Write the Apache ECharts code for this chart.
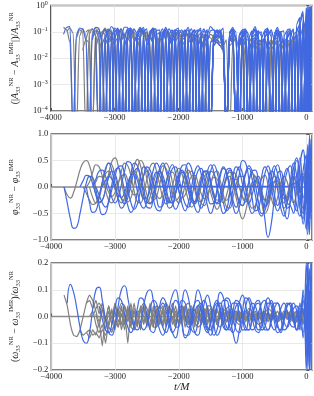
<!DOCTYPE html>
<html><head><meta charset="utf-8">
<script src="https://cdn.jsdelivr.net/npm/echarts@6/dist/echarts.min.js"></script>
<style>html,body{margin:0;padding:0;background:#fff}#c{width:314px;height:396px}</style>
</head><body><div id="c"></div>
<script>
const _ = null;
const T = [-3800,-3750,-3700,-3650,-3600,-3550,-3500,-3450,-3400,-3350,
-3300,-3250,-3200,-3150,-3100,-3050,-3000,-2950,-2900,-2850,
-2800,-2750,-2700,-2650,-2600,-2550,-2500,-2450,-2400,-2350,
-2300,-2250,-2200,-2150,-2100,-2050,-2000,-1950,-1900,-1850,
-1800,-1750,-1700,-1650,-1600,-1550,-1500,-1450,-1400,-1350,
-1300,-1250,-1200,-1150,-1100,-1050,-1000,-950,-900,-850,
-800,-750,-700,-650,-600,-550,-500,-450,-400,-350,
-300,-250,-200,-150,-100,-50,0,25,50,75];
const xTicks = [-4000,-3000,-2000,-1000,0];
const zeroRef = [[-4000,0],[90,0]];

// ---- panel 1: relative amplitude difference (log) ----
const ampGray1 = [0.15,0.12,0.04,1e-5,0.06,0.12,0.1,1e-5,0.08,0.13,
0.09,1e-5,0.07,0.12,0.05,1e-5,0.1,0.12,0.03,1e-5,
0.08,0.12,0.06,1e-5,0.09,0.11,1e-5,0.06,0.12,0.07,
1e-5,0.05,0.1,0.08,1e-5,0.07,0.1,0.04,1e-5,0.06,
0.09,0.06,1e-5,0.05,0.08,0.03,1e-5,0.05,0.07,0.06,
0.03,1e-5,0.06,0.05,1e-5,0.05,0.06,1e-5,0.06,0.04,
1e-5,0.04,0.05,1e-5,0.03,0.05,0.03,1e-5,0.04,0.05,
1e-5,0.04,0.06,1e-5,0.08,1e-5,0.2,1e-5,0.3,1e-5];
const ampGray2 = [_,0.1,0.14,0.09,1e-5,0.07,0.13,0.08,1e-5,0.1,
0.14,0.06,1e-5,0.09,0.13,0.04,1e-5,0.1,0.11,1e-5,
0.05,0.12,0.1,1e-5,0.07,0.12,0.04,1e-5,0.09,0.1,
0.02,1e-5,0.08,0.1,1e-5,0.04,0.09,0.06,1e-5,0.07,
0.08,1e-5,0.03,0.07,0.06,1e-5,0.04,0.07,0.06,0.03,
0.02,1e-5,0.06,0.04,0.06,0.02,1e-5,0.05,0.05,1e-5,
0.03,0.05,1e-5,0.04,0.04,1e-5,0.03,0.05,1e-5,0.02,
0.05,1e-5,0.05,0.07,1e-5,0.15,1e-5,0.4,1e-5,0.2];
const ampGray3 = [_,_,_,_,_,_,_,0.05,0.11,0.13,
0.07,1e-5,0.1,0.14,0.08,1e-5,0.06,0.12,0.1,1e-5,
0.1,0.13,0.05,1e-5,0.11,0.12,1e-5,0.08,0.13,0.05,
1e-5,0.09,0.11,1e-5,0.06,0.1,0.05,1e-5,0.08,0.08,
1e-5,0.05,0.08,0.04,1e-5,0.07,0.06,0.04,0.05,0.07,
0.03,1e-5,0.06,0.05,1e-5,0.04,0.06,0.01,1e-5,0.05,
0.04,1e-5,0.03,0.05,0.02,1e-5,0.04,0.04,1e-5,0.03,
0.05,0.02,1e-5,0.06,0.1,1e-5,0.3,0.05,1e-5,0.5];
const ampGray4 = [_,_,_,_,_,_,0.02,0.05,0.04,1e-5,
0.03,0.06,0.02,1e-5,0.04,0.05,0.01,1e-5,0.05,0.06,
0.02,1e-5,0.04,0.06,0.02,1e-5,0.05,0.05,1e-5,0.03,
0.06,0.03,1e-5,0.04,0.05,1e-5,0.02,0.05,0.03,1e-5,
0.04,0.05,1e-5,0.03,0.05,0.02,1e-5,0.03,0.04,0.03,
0.02,1e-5,0.03,0.04,1e-5,0.03,0.04,1e-5,0.02,0.04,
1e-5,0.03,0.04,1e-5,0.02,0.03,0.02,1e-5,0.03,0.03,
1e-5,0.03,0.05,0.02,1e-5,0.1,0.2,1e-5,0.4,0.1];
const ampGray5 = [_,_,_,_,_,_,_,_,_,_,
0.04,0.09,0.07,1e-5,0.06,0.1,0.04,1e-5,0.07,0.09,
1e-5,0.05,0.1,0.07,1e-5,0.06,0.1,0.03,1e-5,0.08,
0.09,1e-5,0.06,0.09,0.03,1e-5,0.07,0.08,1e-5,0.05,
0.08,0.03,1e-5,0.06,0.07,1e-5,0.04,0.07,0.05,0.03,
0.02,1e-5,0.05,0.06,1e-5,0.03,0.05,0.04,1e-5,0.04,
0.02,0.04,0.03,1e-5,0.03,0.04,1e-5,0.02,0.04,0.02,
1e-5,0.04,0.03,1e-5,0.06,0.15,1e-5,0.25,0.6,1e-5];
const ampGray6 = [_,_,_,_,_,_,_,0.1,0.12,1e-5,
0.08,0.13,0.06,1e-5,0.11,0.12,1e-5,0.07,0.13,0.08,
1e-5,0.1,0.12,1e-5,0.06,0.12,0.08,1e-5,0.1,0.11,
1e-5,0.07,0.11,0.05,1e-5,0.09,0.1,1e-5,0.06,0.09,
0.06,1e-5,0.07,0.09,1e-5,0.05,0.08,0.07,0.05,0.08,
0.04,1e-5,0.07,0.06,1e-5,0.05,0.07,1e-5,0.04,0.06,
0.03,1e-5,0.05,0.05,1e-5,0.04,0.05,1e-5,0.03,0.05,
1e-5,0.05,0.04,1e-5,0.1,1e-5,0.3,1e-5,0.5,0.2];
const ampGray7 = [_,_,_,_,_,_,_,_,_,_,
0.02,0.06,0.1,0.08,1e-5,0.05,0.11,0.09,1e-5,0.07,
0.12,0.05,1e-5,0.09,0.11,1e-5,0.04,0.1,0.09,1e-5,
0.07,0.1,1e-5,0.05,0.1,0.06,1e-5,0.08,0.09,1e-5,
0.05,0.08,0.04,1e-5,0.06,0.08,1e-5,0.05,0.07,0.06,
0.03,0.05,1e-5,0.04,0.06,1e-5,0.05,0.05,1e-5,0.03,
0.05,1e-5,0.04,0.05,1e-5,0.03,0.05,0.03,1e-5,0.04,
0.04,1e-5,0.05,0.08,1e-5,0.2,0.05,1e-5,0.3,1e-5];
const ampBlue1 = [0.08,0.15,0.16,1e-5,0.08,0.14,0.13,0.05,1e-5,0.08,
0.15,0.14,0.04,1e-5,0.1,0.16,0.12,1e-5,0.06,0.15,
0.15,0.05,1e-5,0.1,0.15,0.1,1e-5,0.08,0.14,0.12,
1e-5,0.06,0.13,0.1,1e-5,0.07,0.12,0.09,1e-5,0.08,
0.13,0.06,1e-5,0.09,0.13,0.04,1e-5,0.08,0.12,0.1,
0.04,1e-5,0.1,0.12,0.06,1e-5,0.08,0.12,0.05,1e-5,
0.06,0.11,0.07,1e-5,0.09,0.1,1e-5,0.07,0.1,0.03,
1e-5,0.1,0.12,1e-5,0.3,1e-5,0.8,0.2,1e-5,0.6];
const ampBlue2 = [_,_,_,_,_,_,_,_,_,_,
_,_,_,0.08,1e-5,0.07,0.14,0.11,1e-5,0.05,
0.13,0.14,1e-5,0.06,0.13,0.09,1e-5,0.1,0.14,0.04,
1e-5,0.1,0.12,1e-5,0.05,0.12,0.1,1e-5,0.09,0.12,
0.03,1e-5,0.1,0.12,1e-5,0.05,0.11,0.12,0.1,0.06,
0.02,1e-5,0.08,0.13,0.1,1e-5,0.06,0.12,0.08,1e-5,
0.08,0.11,1e-5,0.06,0.12,0.07,1e-5,0.08,0.1,1e-5,
0.06,0.1,0.05,1e-5,0.2,0.5,1e-5,1.0,0.3,1e-5];
const ampBlue3 = [_,_,_,_,_,_,_,_,_,0.05,
0.11,0.1,1e-5,0.05,0.12,0.1,1e-5,0.09,0.13,0.06,
1e-5,0.07,0.13,0.09,1e-5,0.1,0.13,0.02,1e-5,0.11,
0.12,0.04,1e-5,0.08,0.12,0.05,1e-5,0.1,0.11,1e-5,
0.07,0.12,0.07,1e-5,0.06,0.12,1e-5,0.05,0.08,0.1,
0.04,1e-5,0.09,0.12,1e-5,0.07,0.1,0.08,1e-5,0.07,
0.12,0.06,1e-5,0.1,0.1,1e-5,0.06,0.1,0.05,1e-5,
0.07,0.1,1e-5,0.15,0.08,1e-5,0.4,1e-5,0.6,0.9];
const ampBlue4 = [_,_,_,_,_,_,_,_,_,_,
0.06,1e-5,0.08,0.13,0.07,1e-5,0.1,0.14,0.04,1e-5,
0.1,0.12,1e-5,0.07,0.14,0.08,1e-5,0.11,0.12,1e-5,
0.08,0.13,0.05,1e-5,0.1,0.12,1e-5,0.06,0.12,0.07,
1e-5,0.09,0.12,1e-5,0.07,0.12,1e-5,0.06,0.11,0.09,
0.03,1e-5,0.1,0.12,1e-5,0.08,0.12,0.06,1e-5,0.1,
0.12,1e-5,0.06,0.11,0.08,1e-5,0.09,0.12,1e-5,0.07,
0.11,1e-5,0.08,0.1,1e-5,0.25,1e-5,0.7,1e-5,0.5];
const ampBlue5 = [_,_,_,_,_,_,_,_,_,_,
_,_,_,_,0.04,0.07,0.03,1e-5,0.05,0.08,
0.05,1e-5,0.04,0.08,0.06,1e-5,0.05,0.08,0.04,1e-5,
0.06,0.08,1e-5,0.04,0.08,0.05,1e-5,0.06,0.08,1e-5,
0.04,0.08,0.06,1e-5,0.05,0.08,1e-5,0.04,0.07,0.06,
0.04,1e-5,0.06,0.08,1e-5,0.04,0.08,0.05,1e-5,0.06,
0.08,0.03,1e-5,0.07,0.08,1e-5,0.05,0.09,0.04,1e-5,
0.06,0.09,1e-5,0.12,1e-5,0.3,0.1,1e-5,0.9,1e-5];
const ampBlue6 = [_,_,_,_,_,_,_,_,_,_,
_,_,_,_,_,_,0.05,0.12,0.1,1e-5,
0.07,0.14,0.09,1e-5,0.1,0.15,0.05,1e-5,0.12,0.13,
1e-5,0.08,0.15,0.07,1e-5,0.12,0.14,1e-5,0.09,0.15,
0.07,1e-5,0.11,0.14,1e-5,0.08,0.16,0.12,0.06,0.1,
0.14,1e-5,0.1,0.15,0.05,1e-5,0.12,0.13,1e-5,0.1,
0.16,0.06,1e-5,0.12,0.14,1e-5,0.09,0.15,0.05,1e-5,
0.12,0.13,1e-5,0.2,0.35,1e-5,0.8,1e-5,0.5,0.9];
const ampBlue7 = [_,_,_,_,_,_,_,_,_,_,
_,_,0.03,0.06,0.03,1e-5,0.04,0.06,1e-5,0.03,
0.06,0.04,1e-5,0.05,0.06,1e-5,0.03,0.06,0.04,1e-5,
0.05,0.06,1e-5,0.03,0.06,0.04,1e-5,0.05,0.06,1e-5,
0.04,0.06,0.03,1e-5,0.05,0.05,1e-5,0.03,0.05,0.04,
0.03,1e-5,0.05,0.06,1e-5,0.04,0.06,0.03,1e-5,0.05,
0.06,1e-5,0.04,0.06,0.02,1e-5,0.05,0.06,1e-5,0.04,
0.06,1e-5,0.05,0.08,1e-5,0.15,1e-5,0.5,0.2,1e-5];
const ampBlue8 = [_,_,_,_,_,_,_,_,_,_,
_,_,_,_,_,_,_,_,_,_,
_,_,_,_,_,_,_,_,_,_,
0.1,1e-5,0.07,0.13,0.09,1e-5,0.08,0.12,0.06,1e-5,
0.09,0.12,1e-5,0.06,0.11,0.1,1e-5,0.07,0.1,0.12,
0.06,1e-5,0.09,0.12,0.05,1e-5,0.1,0.11,1e-5,0.08,
0.13,0.05,1e-5,0.1,0.13,1e-5,0.07,0.12,0.09,1e-5,
0.09,0.12,1e-5,0.1,0.2,1e-5,0.5,0.2,1e-5,0.8];
const ampBlue9 = [_,_,_,_,_,_,_,_,_,_,
_,_,_,_,_,_,_,_,_,_,
_,_,_,_,_,_,_,_,_,_,
_,_,_,_,_,_,_,_,_,_,
_,_,_,_,_,_,_,_,_,_,
_,_,0.05,0.1,1e-5,0.08,0.1,1e-5,0.06,0.11,
1e-5,0.09,0.1,1e-5,0.07,0.12,0.05,1e-5,0.1,0.11,
1e-5,0.07,0.13,1e-5,0.3,0.6,1e-5,0.9,1e-5,0.7];
const ampBlue10 = [_,_,_,_,_,_,_,_,_,_,
_,_,_,_,_,_,_,_,_,_,
_,_,_,_,_,_,_,_,_,_,
_,_,_,_,_,_,0.03,0.05,1e-5,0.04,
0.05,1e-5,0.03,0.05,0.02,1e-5,0.04,0.05,0.04,0.03,
0.03,1e-5,0.05,0.04,1e-5,0.05,0.03,1e-5,0.05,0.02,
1e-5,0.05,0.04,1e-5,0.05,0.03,1e-5,0.04,0.05,1e-5,
0.05,0.04,1e-5,0.06,1e-5,0.2,1e-5,0.3,0.7,1e-5];

// ---- panel 2: phase difference ----
const phiGray1 = [0,-0.15,-0.21,-0.1,0.1,0.32,0.46,0.5,0.4,0.15,
-0.15,-0.3,-0.25,-0.05,0.25,0.48,0.55,0.4,0.12,-0.18,
-0.28,-0.2,0.05,0.33,0.5,0.42,0.15,-0.12,-0.25,-0.18,
0.05,0.3,0.45,0.35,0.08,-0.2,-0.3,-0.2,0.05,0.25,
0.3,0.15,-0.1,-0.3,-0.35,-0.2,0.05,0.25,0.3,0.12,
-0.15,-0.38,-0.4,-0.2,0.05,0.2,0.2,0,-0.25,-0.4,
-0.35,-0.1,0.15,0.22,0.05,-0.2,-0.35,-0.2,0.05,0.2,
0.1,-0.15,-0.3,-0.1,0.15,0.25,0,0.3,-0.2,0.1];
const phiGray2 = [_,_,_,_,_,_,_,_,0,-0.2,
-0.3,-0.2,0.05,0.3,0.45,0.42,0.2,-0.05,-0.22,-0.25,
-0.1,0.15,0.38,0.52,0.4,0.12,-0.15,-0.3,-0.25,0,
0.25,0.4,0.35,0.15,-0.1,-0.25,-0.2,0.02,0.22,0.32,
0.2,-0.05,-0.25,-0.28,-0.1,0.15,0.3,0.25,0.02,-0.22,
-0.3,-0.15,0.1,0.28,0.22,0,-0.2,-0.28,-0.15,0.08,
0.2,0.12,-0.08,-0.25,-0.3,-0.12,0.1,0.18,0.05,-0.15,
-0.25,-0.1,0.12,0.2,0,-0.2,0.1,-0.3,0.2,-0.1];
const phiGray3 = [_,_,_,_,_,_,_,0,0.1,0.28,
0.42,0.38,0.2,-0.05,-0.25,-0.3,-0.2,0.05,0.3,0.45,
0.4,0.2,-0.08,-0.28,-0.3,-0.12,0.15,0.38,0.45,0.3,
0.05,-0.2,-0.32,-0.25,0,0.25,0.35,0.25,0,-0.25,
-0.38,-0.3,-0.05,0.2,0.28,0.15,-0.1,-0.3,-0.42,-0.3,
-0.05,0.15,0.2,0.05,-0.2,-0.45,-0.6,-0.45,-0.15,0.08,
0.1,-0.05,-0.3,-0.5,-0.4,-0.1,0.1,0.05,-0.2,-0.4,
-0.3,0,0.2,0.05,-0.25,-0.4,0.2,0.4,-0.3,0.2];
const phiGray4 = [_,_,_,_,_,_,_,_,_,0,
0.1,0.2,0.18,0.05,-0.1,-0.18,-0.1,0.08,0.2,0.25,
0.12,-0.05,-0.15,-0.12,0.05,0.22,0.3,0.22,0.02,-0.15,
-0.22,-0.1,0.1,0.25,0.28,0.12,-0.08,-0.2,-0.15,0.05,
0.2,0.22,0.08,-0.12,-0.22,-0.15,0.05,0.18,0.15,-0.02,
-0.2,-0.25,-0.1,0.1,0.15,0.02,-0.18,-0.28,-0.2,0,
0.12,0.08,-0.1,-0.25,-0.22,-0.05,0.1,0.1,-0.05,-0.22,
-0.2,0.05,0.18,0,-0.2,0.15,-0.1,0.25,-0.15,0.05];
const phiGray5 = [_,_,_,_,_,_,0,-0.12,-0.25,-0.33,
-0.3,-0.15,0.08,0.25,0.3,0.15,-0.05,-0.22,-0.3,-0.2,
0.02,0.22,0.3,0.2,-0.02,-0.22,-0.3,-0.18,0.05,0.25,
0.3,0.15,-0.1,-0.28,-0.3,-0.12,0.12,0.28,0.25,0.05,
-0.15,-0.28,-0.22,0,0.2,0.25,0.1,-0.12,-0.25,-0.2,
0,0.2,0.28,0.15,-0.1,-0.3,-0.35,-0.15,0.1,0.25,
0.2,-0.02,-0.25,-0.35,-0.2,0.05,0.2,0.12,-0.1,-0.3,
-0.15,0.1,0.25,-0.05,-0.3,0.1,0.35,-0.4,0.25,0];
const phiBlue1 = [0,-0.3,-0.6,-0.78,-0.75,-0.5,-0.2,0.08,0.2,0.18,
-0.05,-0.35,-0.52,-0.5,-0.25,0.05,0.3,0.36,0.2,-0.08,
-0.35,-0.48,-0.38,-0.1,0.2,0.38,0.33,0.08,-0.22,-0.42,
-0.45,-0.25,0.05,0.32,0.42,0.25,-0.05,-0.32,-0.45,-0.3,
0,0.28,0.4,0.25,-0.05,-0.35,-0.5,-0.35,-0.05,0.25,
0.38,0.25,-0.05,-0.35,-0.5,-0.38,-0.05,0.25,0.35,0.15,
-0.15,-0.45,-0.55,-0.3,0.05,0.3,0.25,-0.05,-0.4,-0.55,
-0.3,0.1,0.45,0.2,-0.4,-0.6,0.5,-0.8,0.9,-0.5];
const phiBlue2 = [_,_,_,_,_,_,_,0,-0.3,-0.48,
-0.45,-0.2,0.1,0.35,0.45,0.3,0.05,-0.25,-0.4,-0.32,
-0.05,0.25,0.45,0.4,0.15,-0.15,-0.38,-0.4,-0.2,0.1,
0.35,0.45,0.3,0.02,-0.28,-0.42,-0.3,0,0.3,0.45,
0.35,0.05,-0.25,-0.4,-0.28,0.02,0.3,0.42,0.28,-0.02,
-0.3,-0.45,-0.35,-0.05,0.25,0.38,0.25,-0.05,-0.35,-0.5,
-0.4,-0.1,0.2,0.38,0.28,0,-0.3,-0.45,-0.3,0,
0.3,0.4,0.1,-0.35,-0.55,0.3,0.6,-0.7,1.0,-0.4];
const phiBlue3 = [_,_,_,_,_,_,_,_,_,0,
0.15,0.3,0.32,0.2,0,-0.2,-0.3,-0.2,0.05,0.3,
0.48,0.45,0.22,-0.08,-0.32,-0.4,-0.25,0.05,0.32,0.45,
0.35,0.08,-0.22,-0.4,-0.35,-0.1,0.2,0.4,0.42,0.2,
-0.1,-0.38,-0.48,-0.3,0,0.3,0.42,0.28,-0.02,-0.32,
-0.5,-0.42,-0.12,0.2,0.38,0.3,0.05,-0.2,-0.3,-0.15,
0.1,0.2,-0.1,-0.6,-0.95,-0.7,-0.2,0.25,0.3,0,
-0.3,-0.35,-0.5,0.1,0.55,-0.3,-0.8,0.7,-0.2,0.9];
const phiBlue4 = [_,_,_,_,_,_,_,_,_,_,
_,_,_,_,_,_,_,_,_,_,
_,_,_,_,_,_,_,0.01,0.01,0.01,
0.01,0.01,0.01,0.01,0.01,0.01,0.01,0.01,0.01,0.01,
0.01,0.01,0.01,0.01,0.01,0.01,0.01,0.01,0.01,0.01,
0.01,0.01,0.01,0.01,0.01,0.01,0.01,0.01,0.01,0.01,
0.01,0.01,0.01,0.01,0.01,0.01,0.01,0.01,0.01,0.01,
0.01,0.02,0.05,0.1,-0.1,0.2,-0.3,0.5,-0.6,0.8];
const phiBlue5 = [_,_,_,_,_,_,_,_,_,_,
0,-0.15,-0.3,-0.38,-0.28,-0.05,0.2,0.38,0.4,0.22,
-0.05,-0.3,-0.42,-0.32,-0.05,0.22,0.38,0.32,0.08,-0.2,
-0.38,-0.35,-0.12,0.15,0.35,0.38,0.18,-0.1,-0.32,-0.38,
-0.2,0.08,0.3,0.35,0.15,-0.12,-0.32,-0.3,-0.08,0.2,
0.35,0.28,0.02,-0.25,-0.38,-0.25,0.02,0.28,0.4,0.3,
0.05,-0.28,-0.5,-0.45,-0.15,0.2,0.4,0.25,-0.1,-0.45,
-0.6,-0.2,0.35,0.55,-0.1,-0.7,0.4,0.8,-0.9,0.3];
const phiBlue6 = [_,_,_,_,_,_,_,_,_,_,
_,_,0,0.12,0.2,0.15,0,-0.15,-0.2,-0.1,
0.08,0.22,0.25,0.12,-0.08,-0.22,-0.2,-0.05,0.15,0.28,
0.22,0.02,-0.2,-0.3,-0.18,0.05,0.25,0.32,0.18,-0.08,
-0.28,-0.32,-0.15,0.1,0.3,0.3,0.1,-0.15,-0.32,-0.28,
-0.05,0.2,0.32,0.2,-0.05,-0.28,-0.35,-0.18,0.1,0.3,
0.32,0.1,-0.2,-0.38,-0.3,0,0.3,0.42,0.2,-0.15,
-0.4,-0.3,0.1,0.5,0.3,-0.5,-0.2,0.6,-0.5,0.7];
const phiBlue7 = [_,_,_,_,_,0,0.12,0.22,0.2,0.05,
-0.15,-0.28,-0.25,-0.05,0.18,0.3,0.25,0.02,-0.22,-0.32,
-0.2,0.05,0.28,0.35,0.2,-0.05,-0.28,-0.32,-0.12,0.15,
0.3,0.22,-0.02,-0.25,-0.3,-0.12,0.12,0.28,0.22,0,
-0.22,-0.28,-0.12,0.12,0.3,0.28,0.05,-0.2,-0.3,-0.12,
0.12,0.32,0.35,0.18,-0.05,0.25,0.5,0.45,0.15,-0.2,
-0.45,-0.4,-0.1,0.25,0.4,0.2,-0.15,-0.35,-0.15,0.2,
0.35,0.1,-0.3,-0.45,0.4,0.7,-0.6,-0.9,0.7,-0.6];

// ---- panel 3: relative frequency difference ----
const omgGray1 = [0.08,0.04,-0.03,-0.07,-0.075,-0.05,0,0.05,0.08,0.06,
0.02,-0.02,0.03,-0.01,0.04,-0.03,0.02,-0.04,0.03,-0.02,
0.04,-0.03,0.02,-0.04,0.03,0,-0.03,0.04,-0.02,0.03,
-0.03,0.02,-0.04,0.03,-0.01,0.04,-0.03,0.02,-0.02,0.03,
-0.02,0.03,-0.03,0.01,0.03,-0.02,0.02,-0.03,0.02,0,
-0.02,0.02,-0.01,0.02,-0.02,0.01,0.02,-0.01,0.01,-0.02,
0.01,-0.01,0.02,-0.01,0.01,-0.02,0.01,0,-0.01,0.01,
-0.01,0.01,-0.02,0.01,0.02,-0.03,0.05,-0.08,0.06,-0.03];
const omgGray2 = [_,_,_,_,_,-0.05,-0.07,-0.06,-0.08,-0.05,
-0.07,-0.02,-0.11,0,-0.04,0.03,-0.05,0.02,-0.03,0.04,
-0.02,0.05,-0.04,0.02,-0.05,0.04,-0.01,0.05,-0.03,0.02,
0.04,-0.03,0.05,-0.02,0.03,-0.04,0.04,-0.01,0.03,-0.03,
0.03,-0.02,0.04,-0.03,0.02,0.03,-0.03,0.02,-0.02,0.03,
0.02,-0.02,0.03,-0.01,0.01,-0.02,0.02,0,-0.02,0.01,
-0.01,0.02,-0.01,0.01,-0.01,0.01,0,-0.01,0.01,-0.01,
0.01,-0.01,0.01,-0.02,0.02,0.01,-0.04,0.06,-0.05,0.02];
const omgGray3 = [_,_,_,_,_,_,_,0.05,0.06,0.03,
0.06,0.01,0.05,-0.02,0.04,-0.01,0.05,0,0.04,-0.03,
0.03,-0.01,0.05,-0.03,0.02,0.04,-0.04,0.03,0.01,-0.04,
0.02,0.04,-0.03,0.01,0.05,-0.02,0.02,0.03,-0.04,0.01,
0.04,-0.01,0.02,0.04,-0.03,0.01,0.03,-0.02,0.03,-0.01,
0.02,0.03,-0.02,0.01,0.02,-0.02,0.01,0.02,-0.01,0,
0.02,-0.01,0,0.02,-0.02,0.01,0.01,-0.02,0,0.02,
-0.01,0,0.02,-0.02,0,0.03,-0.05,0.04,-0.02,0.01];
const omgGray4 = [_,_,_,_,_,_,_,_,0,0.02,
-0.03,-0.06,-0.03,-0.1,-0.02,0.02,-0.04,0.03,-0.05,0.01,
-0.1,0.03,-0.05,0.01,0.03,-0.03,0.02,-0.05,0.04,-0.02,
0.01,-0.04,0.02,0.03,-0.03,0.01,-0.02,0.04,-0.01,-0.03,
0.02,-0.04,0.03,0,-0.03,0.04,-0.02,0.01,-0.03,0.02,
-0.03,0.01,0.02,-0.03,0.02,-0.01,-0.02,0.02,0.01,-0.02,
0,0.01,-0.02,0.01,0.01,-0.01,0.02,-0.01,0.01,0,
0.02,-0.02,0,0.02,-0.03,0.02,0.03,-0.06,0.04,-0.02];
const omgGray5 = [_,_,_,_,_,_,_,_,_,0,
0.03,0.05,0.03,-0.01,-0.04,-0.05,-0.02,0.02,0.05,0.04,
0,-0.04,-0.05,-0.02,0.03,0.05,0.03,-0.01,-0.04,-0.04,
-0.01,0.03,0.05,0.03,-0.01,-0.04,-0.04,0,0.04,0.05,
0.02,-0.02,-0.04,-0.03,0.01,0.04,0.04,0.01,-0.03,-0.04,
-0.01,0.03,0.04,0.02,-0.02,-0.03,-0.02,0.01,0.03,0.02,
-0.01,-0.03,-0.02,0.01,0.03,0.02,-0.01,-0.02,-0.01,0.01,
0.02,0,-0.02,0.01,0.03,-0.02,-0.04,0.05,-0.03,0.01];
const omgGray6 = [_,_,_,_,_,_,_,_,_,_,
0.01,-0.04,0.03,-0.05,0.02,-0.03,0.05,-0.02,0.01,-0.05,
0.02,-0.04,0.03,0.01,-0.05,0.03,-0.02,0.04,-0.04,0.02,
-0.03,0.03,-0.01,-0.04,0.03,-0.03,0.02,-0.02,0.04,-0.03,
0.01,-0.03,0.02,-0.02,0.03,-0.03,0.01,0.02,-0.03,0.01,
0.02,-0.02,0.01,0.02,-0.02,0,0.02,-0.02,0.01,0.01,
-0.02,0.01,0.01,-0.02,0.02,-0.01,0,0.02,-0.01,-0.01,
0.02,-0.01,0.01,0.02,-0.02,0.03,-0.03,0.05,-0.04,0.02];
const omgGray7 = [_,_,_,_,_,_,_,-0.06,-0.05,-0.07,
-0.06,-0.08,-0.05,-0.07,-0.04,-0.06,-0.02,-0.04,0.01,-0.03,
0.03,-0.01,0.02,-0.03,0.04,-0.02,0.01,-0.04,0.02,0.04,
-0.02,0.02,-0.03,0.04,-0.01,0.02,-0.03,0.03,0,-0.02,
0.03,-0.02,0,0.03,-0.02,0.02,-0.01,0.03,-0.02,0.01,
0.01,-0.02,0.02,0,-0.01,0.02,-0.01,-0.01,0.02,-0.01,
0.01,0,-0.01,0.01,0,-0.01,0.01,0,-0.01,0.01,
-0.01,0.02,-0.01,0,0.01,-0.02,0.04,-0.05,0.03,-0.01];
const omgBlue1 = [_,0.05,0.12,0.09,0.03,-0.04,-0.09,-0.1,-0.06,0.03,
0.1,0.11,0.06,-0.01,-0.06,-0.07,-0.03,0.04,0.1,0.115,
0.07,0,-0.04,-0.05,-0.02,0.04,0.09,0.1,0.06,0,
-0.05,-0.07,-0.04,0.03,0.08,0.1,0.05,-0.02,-0.07,-0.07,
-0.02,0.05,0.1,0.07,0,-0.05,-0.07,-0.03,0.04,0.09,
0.07,0.01,-0.04,-0.06,-0.02,0.05,0.08,0.04,-0.02,-0.05,
-0.04,0.01,0.05,0.06,0.02,-0.03,-0.05,-0.02,0.03,0.05,
0.02,-0.03,-0.04,0,0.04,0.02,-0.05,0.1,-0.2,0.25];
const omgBlue2 = [_,_,_,_,_,_,_,_,_,_,
_,0.04,-0.01,-0.05,-0.06,-0.03,0.03,0.07,0.06,0.01,
-0.04,-0.06,-0.03,0.03,0.07,0.06,0,-0.05,-0.06,-0.02,
0.04,0.07,0.05,-0.01,-0.06,-0.08,-0.03,0.05,0.1,0.07,
0,-0.06,-0.07,-0.02,0.05,0.08,0.04,-0.03,-0.07,-0.05,
0.02,0.07,0.06,0,-0.05,-0.06,-0.02,0.04,0.07,0.04,
-0.02,-0.05,-0.04,0.01,0.05,0.05,0,-0.04,-0.05,-0.01,
0.04,0.05,0,-0.05,-0.03,0.06,-0.1,0.15,-0.15,0.2];
const omgBlue3 = [_,_,_,_,_,_,_,_,_,_,
_,_,_,_,_,_,_,_,_,_,
_,_,_,_,-0.03,-0.05,-0.03,0.02,0.06,0.05,
0,-0.04,-0.06,-0.03,0.03,0.06,0.04,-0.03,-0.08,-0.06,
0,0.05,0.06,0.02,-0.04,-0.06,-0.02,0.04,0.06,0.03,
-0.02,-0.05,-0.03,0.02,0.06,0.05,0,-0.05,-0.05,0,
0.05,0.06,0.02,-0.03,-0.05,-0.02,0.03,0.05,0.02,-0.02,
-0.04,-0.01,0.03,0.04,-0.02,-0.06,0.12,-0.2,0.18,-0.1];
const omgBlue4 = [_,_,_,_,_,_,_,_,_,_,
_,_,_,_,_,_,_,_,_,_,
_,_,_,_,_,_,_,_,_,_,
0.03,0.05,0.02,-0.03,-0.06,-0.04,0.02,0.06,0.05,0,
-0.05,-0.06,-0.02,0.04,0.06,0.03,-0.03,-0.07,-0.05,0.01,
0.06,0.06,0,-0.06,-0.1,-0.05,0.02,0.07,0.06,0,
-0.05,-0.06,-0.02,0.04,0.07,0.04,-0.02,-0.06,-0.05,0,
0.05,0.04,-0.02,-0.05,0,0.08,-0.2,0.2,-0.12,0.15];
const omgBlue5 = [_,_,_,_,_,_,_,_,_,_,
_,_,_,_,_,_,_,_,_,_,
_,_,_,_,_,_,_,_,_,_,
_,_,_,_,_,_,0.03,0.04,0,-0.04,
-0.03,0.01,0.04,0.03,-0.02,-0.05,-0.02,0.03,0.05,0.01,
-0.04,-0.05,0,0.05,0.05,0,-0.05,-0.05,0.01,0.05,
0.04,-0.01,-0.05,-0.04,0.02,0.06,0.03,-0.03,-0.06,-0.02,
0.04,0.05,0,-0.05,0.05,-0.08,0.2,-0.15,0.1,-0.2];
const omgBlue6 = [_,_,_,_,_,_,_,_,_,_,
_,_,_,_,_,_,_,_,_,_,
_,_,_,_,_,_,_,_,_,_,
_,_,_,_,_,_,_,_,_,_,
_,_,0.04,0.05,0.01,-0.04,-0.05,-0.01,0.04,0.05,
0.01,-0.04,-0.05,-0.01,0.04,0.05,0.01,-0.04,-0.05,-0.01,
0.04,0.05,0,-0.05,-0.05,0,0.05,0.05,0,-0.05,
-0.04,0.02,0.05,0.02,-0.05,0.1,-0.15,0.22,-0.2,0.05];

const ampGrays = [ampGray1, ampGray2, ampGray3, ampGray4, ampGray5, ampGray6, ampGray7];
const ampBlues = [ampBlue1, ampBlue2, ampBlue3, ampBlue4, ampBlue5, ampBlue6, ampBlue7, ampBlue8, ampBlue9, ampBlue10];
const phiGrays = [phiGray1, phiGray2, phiGray3, phiGray4, phiGray5];
const phiBlues = [phiBlue1, phiBlue2, phiBlue3, phiBlue4, phiBlue5, phiBlue6, phiBlue7];
const omgGrays = [omgGray1, omgGray2, omgGray3, omgGray4, omgGray5, omgGray6, omgGray7];
const omgBlues = [omgBlue1, omgBlue2, omgBlue3, omgBlue4, omgBlue5, omgBlue6];

const GRAY = '#808080', BLUE = '#4169e1';
const FONT = 'Liberation Serif';
const grids = [
  {left:37, width:275, top:5, height:106},
  {left:37, width:275, top:134, height:106},
  {left:37, width:275, top:263, height:107}
].map(g => Object.assign(g, {show:true, borderColor:'#555', borderWidth:1.5, backgroundColor:'transparent'}));

const minus = s => String(s).replace('-', '\u2212');
const nameRich = {
  it: {fontFamily: FONT, fontStyle:'italic', fontSize:10, lineHeight:14, color:'#222'},
  sb: {fontFamily: FONT, fontSize:6.5, lineHeight:7, verticalAlign:'bottom', color:'#222'},
  sp: {fontFamily: FONT, fontSize:6.5, lineHeight:7, verticalAlign:'top', color:'#222'}
};
function xAxis(k) {
  const ax = {
    type:'value', gridIndex:k, min:-4000, max:90, interval:1000,
    axisLine:{show:false},
    axisTick:{show:true, inside:true, length:3, lineStyle:{color:'#555'}},
    axisLabel:{fontFamily:FONT, fontSize:8.5, color:'#222', margin:2, showMaxLabel:false,
      formatter: v => xTicks.includes(v) ? minus(v) : ''},
    splitLine:{show:true, lineStyle:{color:'#e3e3e3', width:0.8}}
  };
  if (k === 2) {
    ax.name = 't/M'; ax.nameLocation = 'middle'; ax.nameGap = 11;
    ax.nameTextStyle = {fontFamily:FONT, fontStyle:'italic', fontSize:11, color:'#222'};
  }
  return ax;
}
const yAxes = [
  {type:'log', logBase:10, gridIndex:0, min:1e-4, max:1,
   name:'(|{it|A}{sb|33}{sp|NR} \u2212 {it|A}{sb|33}{sp|IMR}|)/{it|A}{sb|33}{sp|NR}',
   axisLabel:{fontFamily:FONT, fontSize:8.5, lineHeight:11, color:'#222', margin:3,
     formatter: v => { const e = Math.round(Math.log10(v)); return '10{s|' + (e<0?'\u2212':'') + Math.abs(e) + '}'; },
     rich:{s:{fontFamily:FONT, fontSize:6, lineHeight:6, verticalAlign:'top', color:'#222'}}}},
  {type:'value', gridIndex:1, min:-1, max:1, interval:0.5,
   name:'{it|\u03c6}{sb|33}{sp|NR} \u2212 {it|\u03c6}{sb|33}{sp|IMR}',
   axisLabel:{fontFamily:FONT, fontSize:8.5, color:'#222', margin:3,
     formatter: v => (v < -1e-9 ? '\u2212' : '') + Math.abs(v).toFixed(1)}},
  {type:'value', gridIndex:2, min:-0.2, max:0.2, interval:0.1,
   name:'({it|\u03c9}{sb|33}{sp|NR} \u2212 {it|\u03c9}{sb|33}{sp|IMR})/{it|\u03c9}{sb|33}{sp|NR}',
   axisLabel:{fontFamily:FONT, fontSize:8.5, color:'#222', margin:3,
     formatter: v => (v < -1e-9 ? '\u2212' : '') + Math.abs(v).toFixed(1)}}
].map(a => Object.assign(a, {
  nameLocation:'middle', nameRotate:90, nameGap:21,
  nameTextStyle:{fontFamily:FONT, fontSize:10, lineHeight:14, color:'#222', rich:nameRich},
  axisLine:{show:false},
  axisTick:{show:true, inside:true, length:3, lineStyle:{color:'#555'}},
  splitLine:{show:true, lineStyle:{color:'#e3e3e3', width:0.8}}
}));

function line(vals, color, k, smooth, mono) {
  const s = {
    type:'line', xAxisIndex:k, yAxisIndex:k,
    data: T.map((t, i) => [t, vals[i] == null ? '-' : vals[i]]),
    showSymbol:false, smooth:smooth, clip:true, silent:true,
    lineStyle:{color:color, width:1.2}, itemStyle:{color:color}
  };
  if (mono) s.smoothMonotone = 'x';
  return s;
}
function zero(k) {
  return {type:'line', xAxisIndex:k, yAxisIndex:k, data:zeroRef, showSymbol:false, silent:true,
    lineStyle:{color:'#8a8a8a', width:1.3}, itemStyle:{color:'#8a8a8a'}};
}

const series = [];
ampGrays.forEach(v => series.push(line(v, GRAY, 0, 0.3, true)));
ampBlues.forEach(v => series.push(line(v, BLUE, 0, 0.3, true)));
series.push(zero(1));
phiGrays.forEach(v => series.push(line(v, GRAY, 1, 0.5, false)));
phiBlues.forEach(v => series.push(line(v, BLUE, 1, 0.5, false)));
series.push(zero(2));
omgGrays.forEach(v => series.push(line(v, GRAY, 2, 0.15, false)));
omgBlues.forEach(v => series.push(line(v, BLUE, 2, 0.5, false)));

const chart = echarts.init(document.getElementById('c'), null, {renderer:'canvas'});
chart.setOption({
  animation:false, backgroundColor:'#fff',
  grid: grids, xAxis:[0,1,2].map(xAxis), yAxis: yAxes, series: series
});
</script></body></html>
